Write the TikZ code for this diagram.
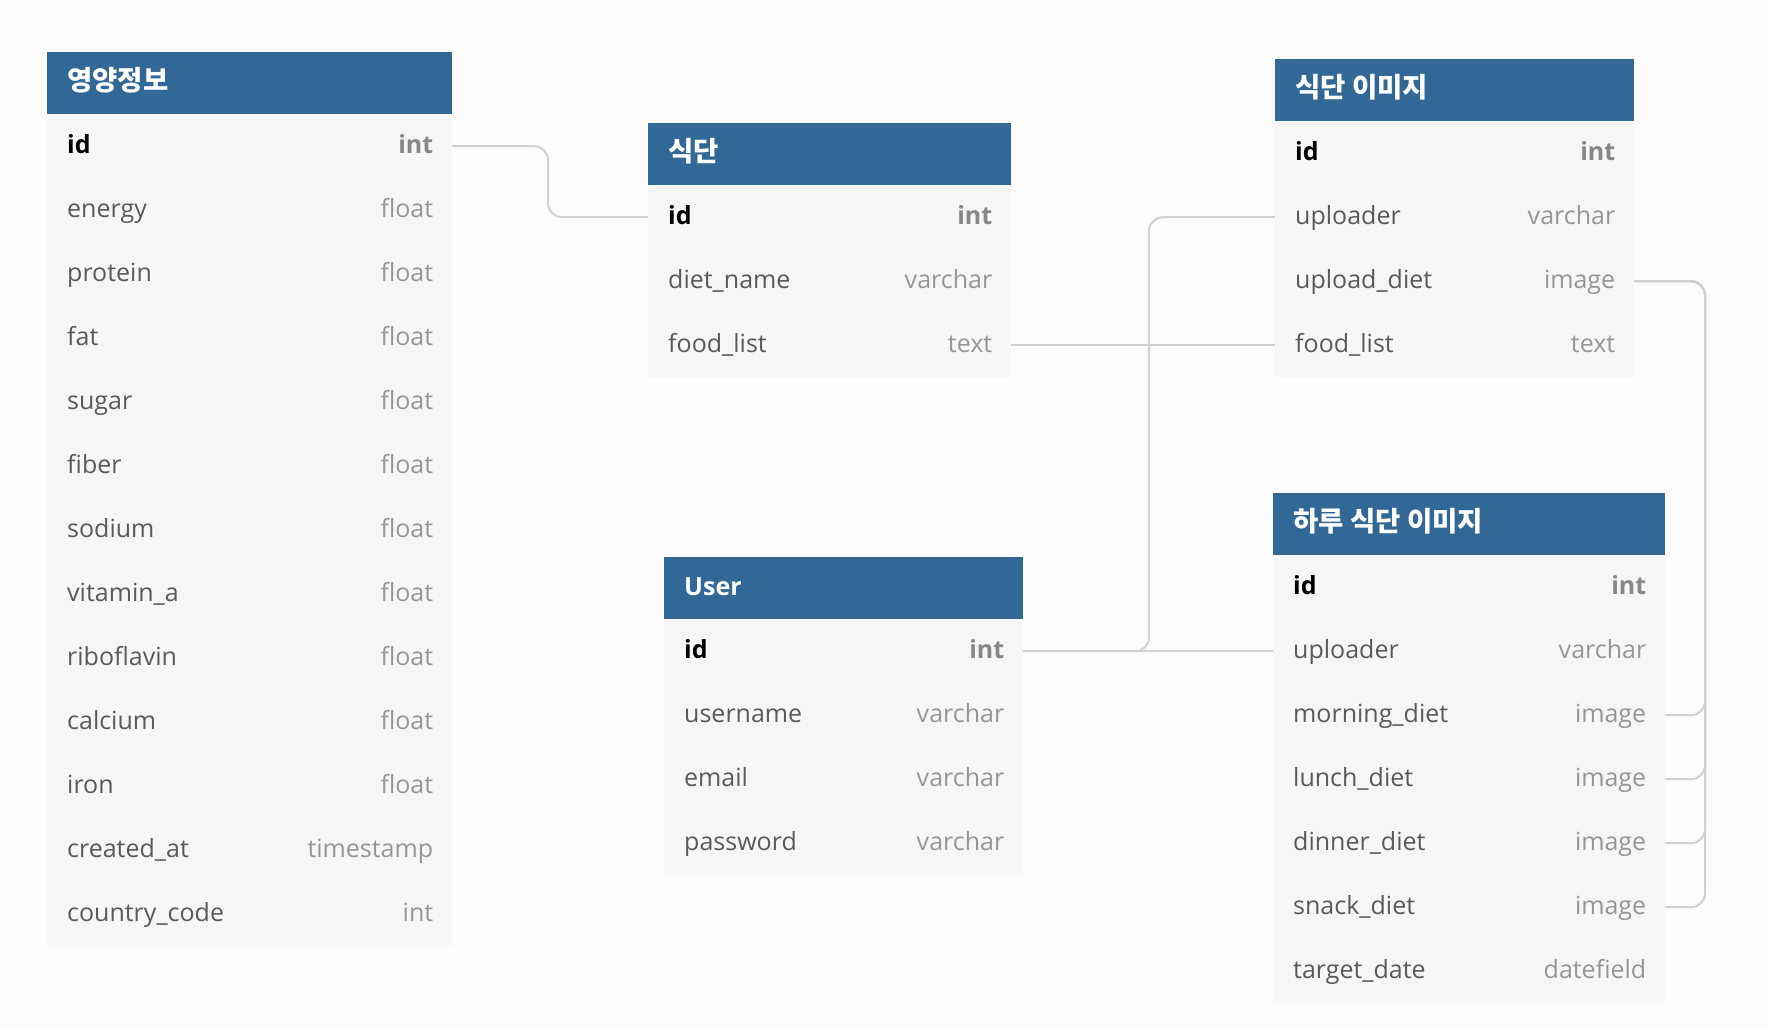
\documentclass[tikz,border=0pt]{standalone}
\usepackage{fontspec}
\setmainfont{Open Sans}
\newfontfamily\krfont{Noto Sans CJK KR}
\usetikzlibrary{calc}
\definecolor{hdr}{RGB}{49,104,150}
\definecolor{rowbg}{RGB}{246,246,246}
\definecolor{canvas}{RGB}{251,251,251}
\definecolor{namec}{RGB}{90,90,90}
\definecolor{typec}{RGB}{150,150,150}
\definecolor{idtype}{RGB}{135,135,135}
\definecolor{conn}{RGB}{208,208,208}
\newcommand{\pkn}[1]{{\bfseries\color{black}#1}}
\newcommand{\pkt}[1]{{\bfseries\color{idtype}#1}}
\newcommand{\krt}[1]{{\krfont\bfseries\fontsize{27.5}{32}\selectfont #1}}
\newcommand{\ertable}[6]{%
  \node[hdrbox, minimum width=#4pt] (#1-h) at (#2,#3) {};
  \node[titletext] (#1-t) at ($(#1-h.west)+(20,7)$) {#5};
  \foreach \nm/\ty [count=\i] in {#6} {
    \node[rowbox, minimum width=#4pt] (#1-\i) at (#2,{#3+62+(\i-1)*64}) {};
    \node[fname] (#1-\i n) at ($(#1-\i.west)+(20,7)$) {\nm};
    \node[ftype] (#1-\i t) at ($(#1-\i.east)+(-19,7)$) {\ty};
  }%
}
\tikzset{
  hdrbox/.style={fill=hdr, draw=none, inner sep=0pt, anchor=north west, minimum height=62pt},
  rowbox/.style={fill=rowbg, draw=none, inner sep=0pt, anchor=north west, minimum height=64pt},
  titletext/.style={text=white, font=\fontsize{25}{30}\selectfont\bfseries, anchor=base west, inner sep=0pt},
  fname/.style={text=namec, font=\fontsize{25}{30}\selectfont, anchor=base west, inner sep=0pt},
  ftype/.style={text=typec, font=\fontsize{25}{30}\selectfont, anchor=base east, inner sep=0pt},
  link/.style={draw=conn, line width=2pt, rounded corners=14pt},
}
\begin{document}
\begin{tikzpicture}[x=1pt,y=-1pt]
\useasboundingbox (0,0) rectangle (1768,1030);
\fill[canvas] (0,0) rectangle (1768,1030);

\ertable{nut}{47}{52}{405}{\krt{영양정보}}{\pkn{id}/\pkt{int}, energy/float, protein/float, fat/float, sugar/float, fiber/float, sodium/float, vitamin\_a/float, riboflavin/float, calcium/float, iron/float, created\_at/timestamp, country\_code/int}
\ertable{diet}{648}{123}{363}{\krt{식단}}{\pkn{id}/\pkt{int}, diet\_name/varchar, food\_list/text}
\ertable{img}{1275}{59}{359}{\krt{식단 이미지}}{\pkn{id}/\pkt{int}, uploader/varchar, upload\_diet/image, food\_list/text}
\ertable{user}{664}{557}{359}{User}{\pkn{id}/\pkt{int}, username/varchar, email/varchar, password/varchar}
\ertable{day}{1273}{493}{392}{\krt{하루 식단 이미지}}{\pkn{id}/\pkt{int}, uploader/varchar, morning\_diet/image, lunch\_diet/image, dinner\_diet/image, snack\_diet/image, target\_date/datefield}

\coordinate (j1) at (548,0);
\coordinate (j2) at (1149,0);
\coordinate (j3) at (1705,0);

\draw[link] (nut-1.east) -| (j1 |- diet-1.west) -- (diet-1.west);
\draw[link] (diet-3.east) -- (img-4.west);
\draw[link] (user-1.east) -- (day-2.west);
\draw[link] (user-1.east) -| (j2 |- img-2.west) -- (img-2.west);
\draw[link] (day-3.east) -| (j3 |- img-3.east) -- (img-3.east);
\draw[link] (day-4.east) -| (j3 |- img-3.east) -- (img-3.east);
\draw[link] (day-5.east) -| (j3 |- img-3.east) -- (img-3.east);
\draw[link] (day-6.east) -| (j3 |- img-3.east) -- (img-3.east);
\end{tikzpicture}
\end{document}
